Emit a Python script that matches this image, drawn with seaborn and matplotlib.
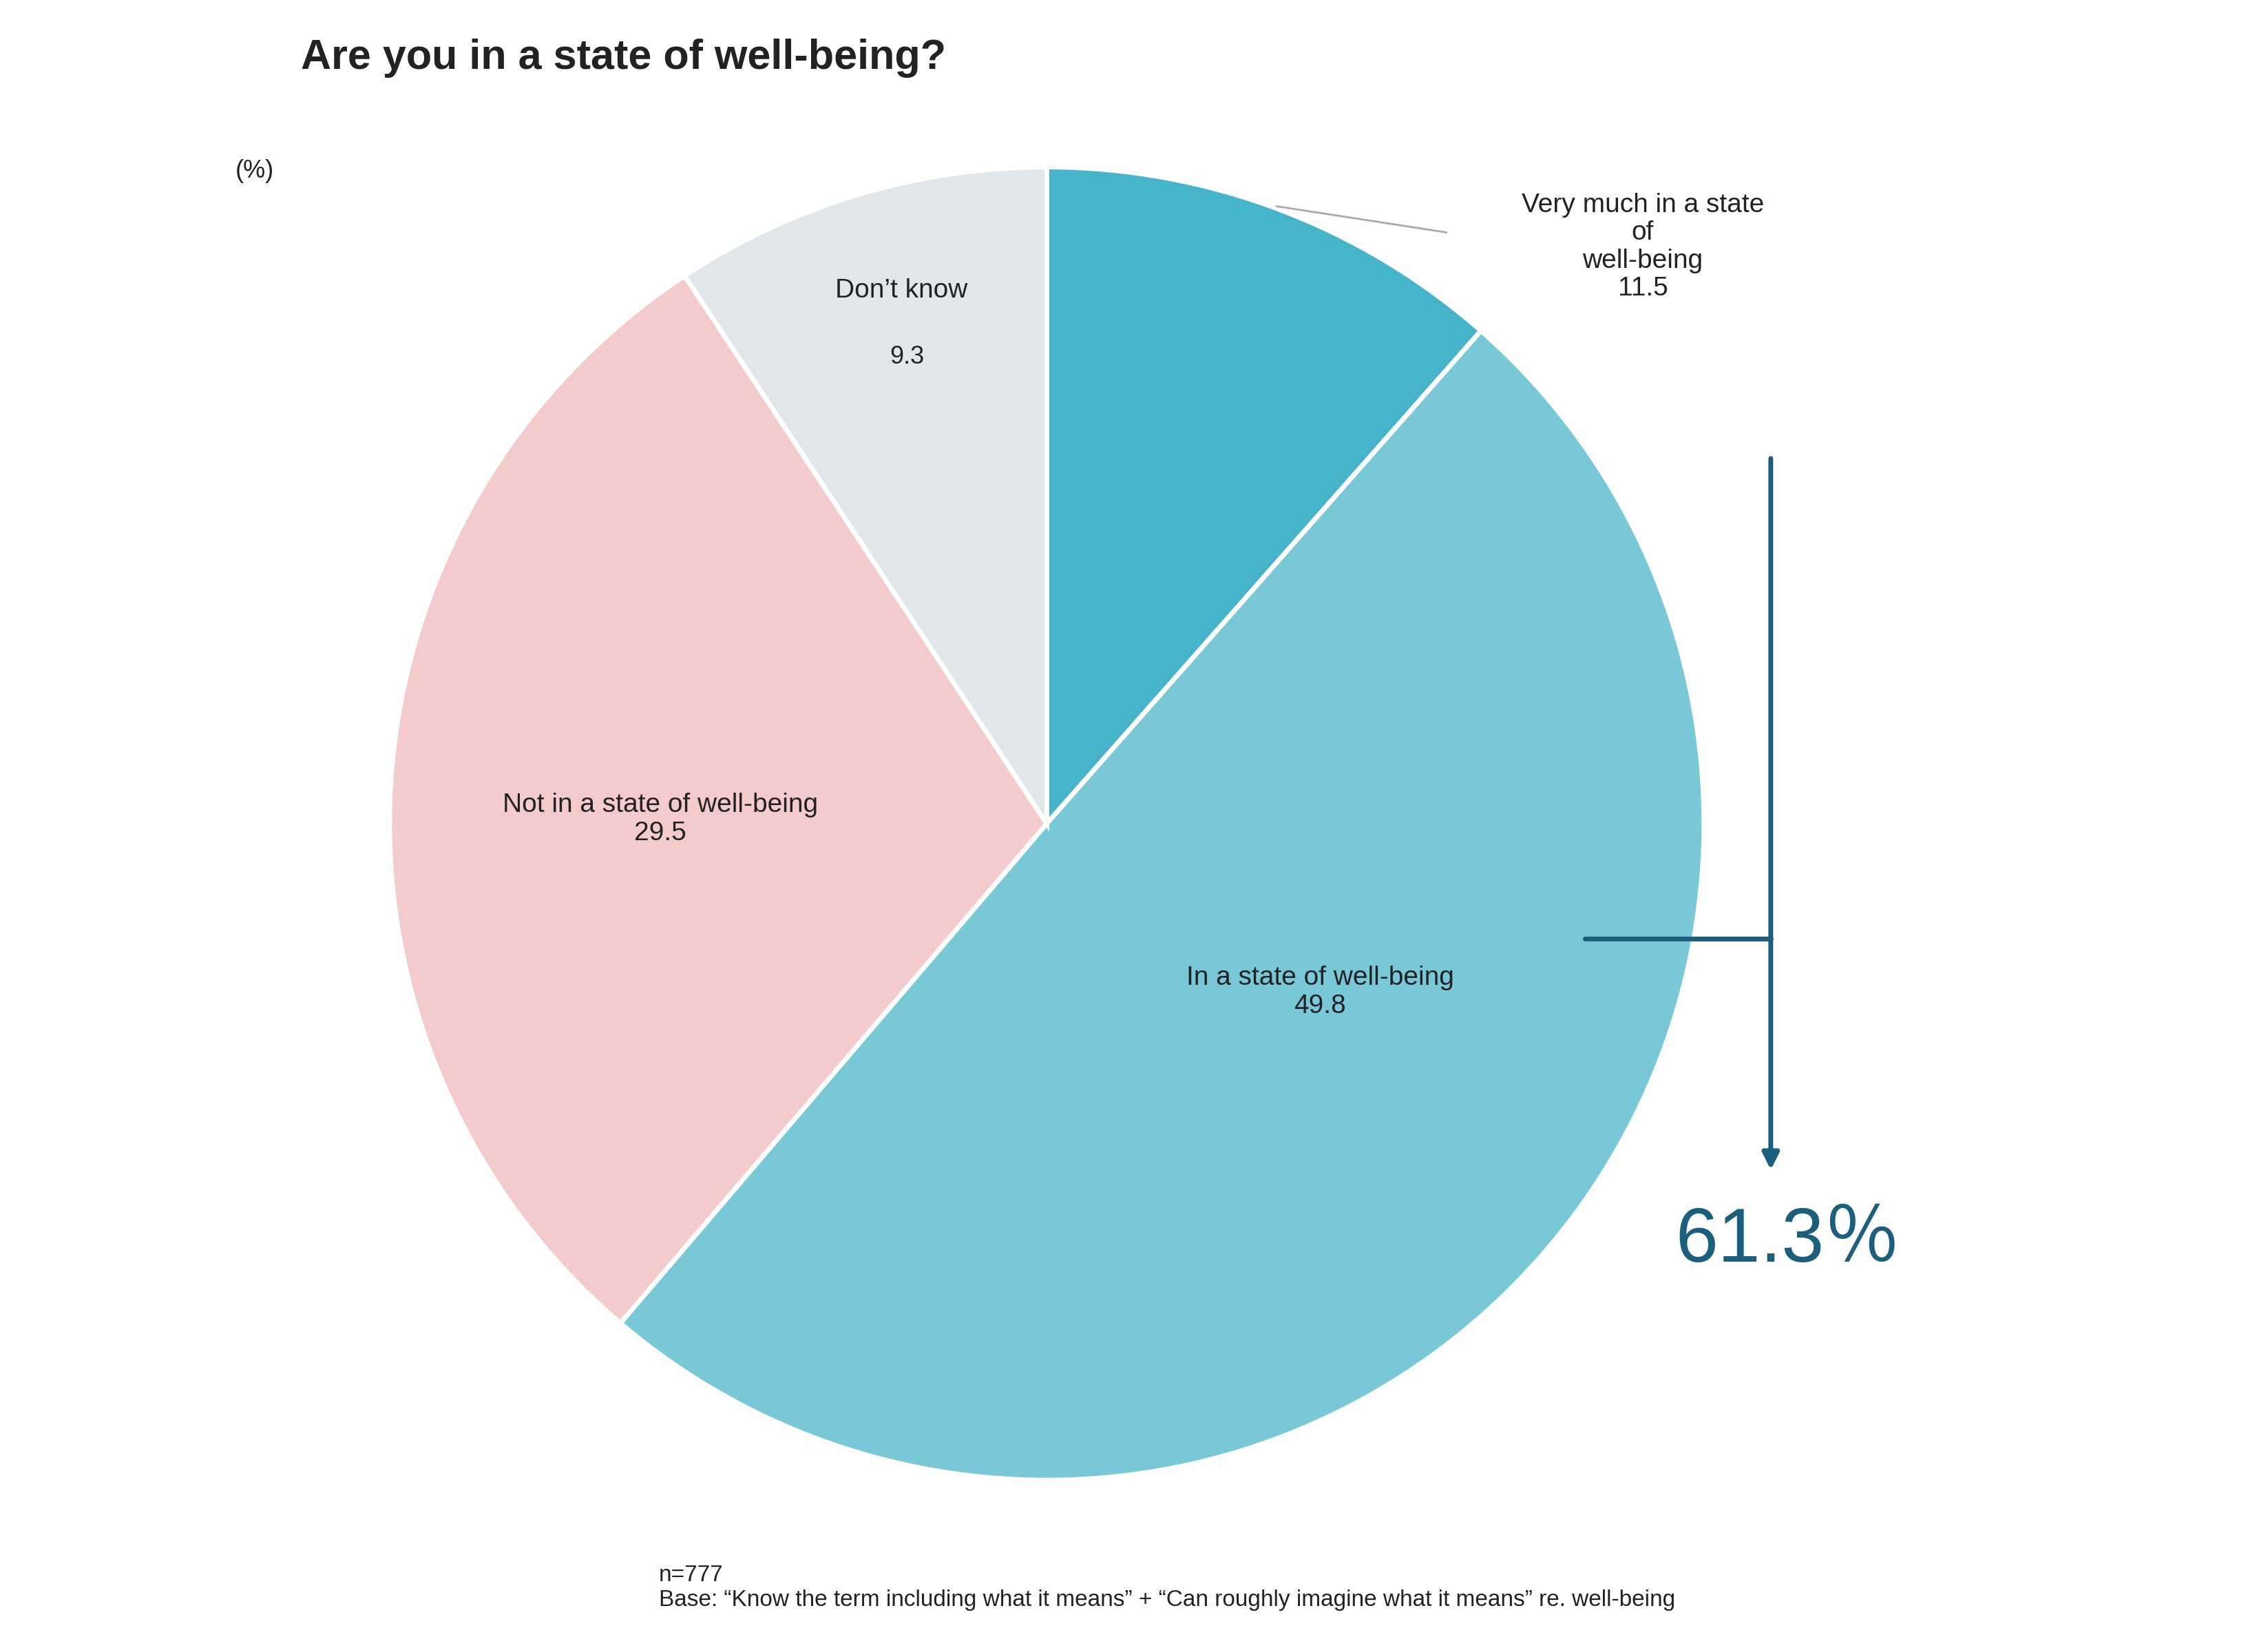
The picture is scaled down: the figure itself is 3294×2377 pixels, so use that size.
import matplotlib
matplotlib.use("Agg")
import seaborn as sns
from matplotlib import pyplot as plt

sns.set_theme(style="white")
plt.rcParams["font.family"] = ["Liberation Sans", "Noto Sans CJK JP", "DejaVu Sans"]

labels = ["Very much in a state\nof\nwell-being", "In a state of well-being",
          "Not in a state of well-being", "Don\u2019t know"]
values = [11.5, 49.8, 29.5, 9.3]
colors = ["#45B3C8", "#78C8D7", "#F4CBCB", "#E1E6EB"]
total_label = "61.3\uff05"

W, H = 1560, 1127
fig = plt.figure(figsize=(16.47, 11.885), dpi=200)
ax = fig.add_axes([0, 0, 1, 1])


def Y(y):
    return H - y


ax.pie(values, colors=colors, startangle=90, counterclock=False,
       center=(720, Y(567)), radius=452,
       wedgeprops=dict(edgecolor="white", linewidth=2.5))
ax.set_xlim(0, W)
ax.set_ylim(0, H)
ax.set_aspect("auto")
ax.axis("off")

txt = "#222222"
ax.text(1130, Y(170), labels[0] + "\n" + f"{values[0]}", ha="center", va="center", fontsize=14, color=txt, linespacing=1.15)
ax.plot([878, 995], [Y(142), Y(160)], color="#aaaaaa", lw=1)
ax.text(908, Y(683), f"{labels[1]}\n{values[1]}", ha="center", va="center", fontsize=14, color=txt)
ax.text(454, Y(564), f"{labels[2]}\n{values[2]}", ha="center", va="center", fontsize=14, color=txt)
ax.text(620, Y(200), labels[3], ha="center", va="center", fontsize=14, color=txt)
ax.text(624, Y(246), f"{values[3]}", ha="center", va="center", fontsize=13, color=txt)

dark = "#1B5E7E"
ax.plot([1090, 1218], [Y(646), Y(646)], color=dark, lw=2.5)
ax.annotate("", xy=(1218, Y(808)), xytext=(1218, Y(313)),
            arrowprops=dict(arrowstyle="-|>", color=dark, lw=2.5, mutation_scale=18))
ax.text(1230, Y(855), total_label, ha="center", va="center", fontsize=40, color=dark)

ax.text(207, Y(40), "Are you in a state of well-being?", ha="left", va="center",
        fontsize=22, fontweight="bold", color=txt)
ax.text(162, Y(118), "(%)", ha="left", va="center", fontsize=13, color=txt)
ax.text(453, Y(1093), "n=777\nBase: \u201cKnow the term including what it means\u201d + \u201cCan roughly imagine what it means\u201d re. well-being",
        ha="left", va="center", fontsize=12, color=txt)

fig.savefig("out.png", dpi=200)
